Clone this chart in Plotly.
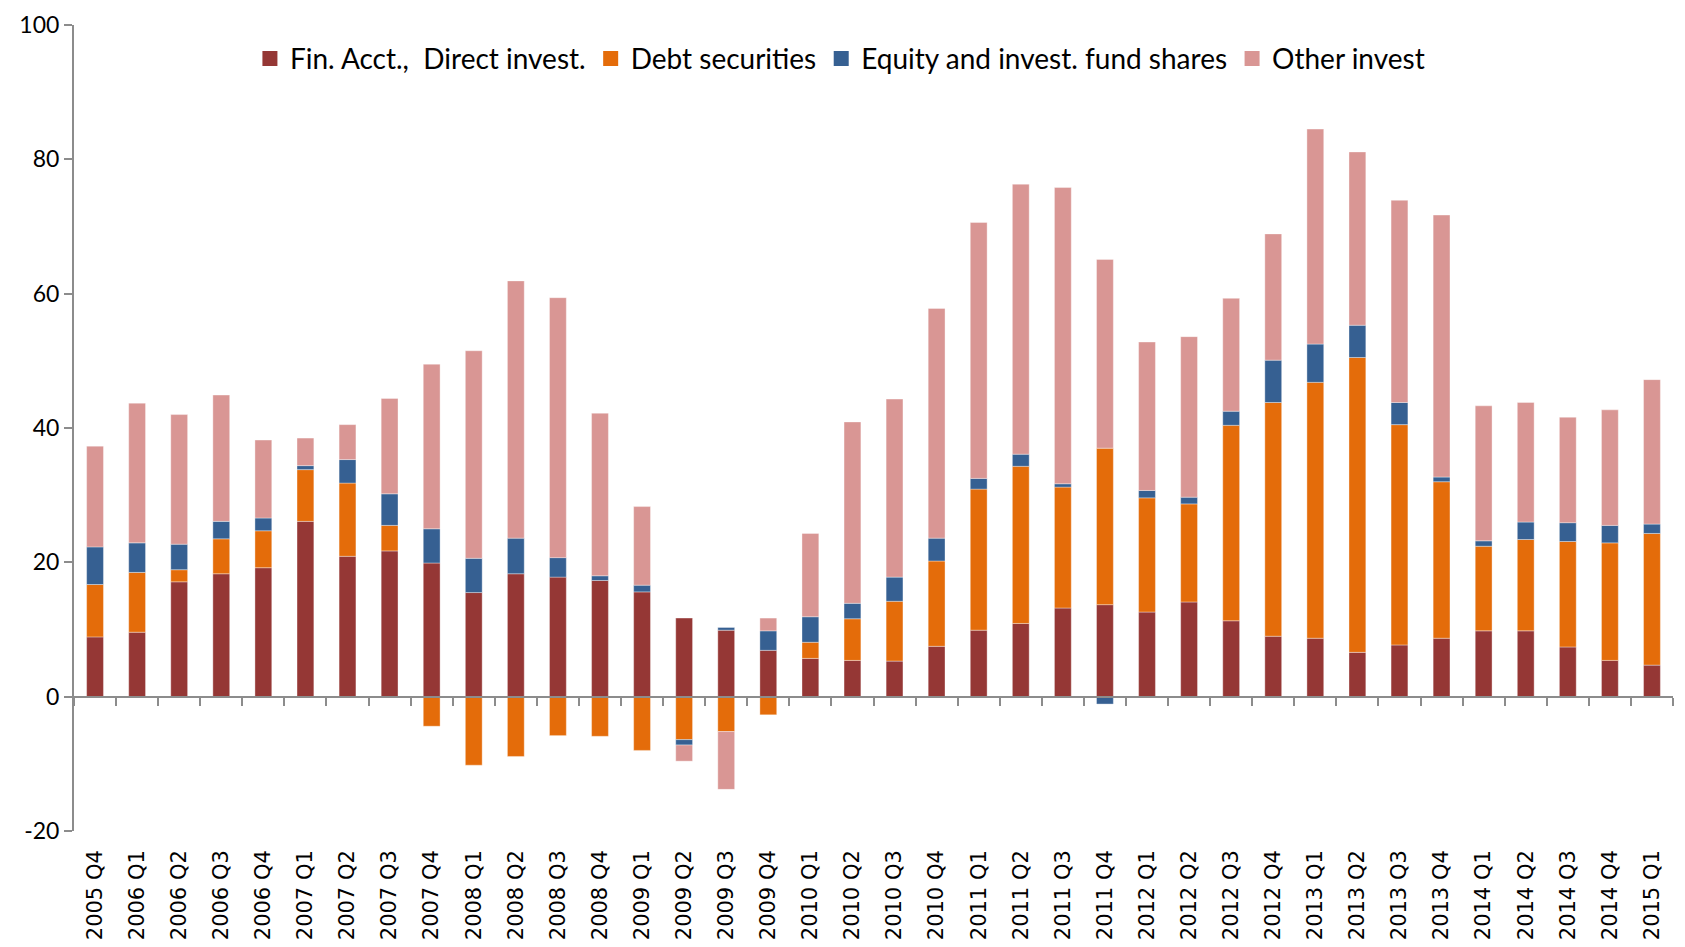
import plotly.graph_objects as go

quarters = ["2005 Q4", "2006 Q1", "2006 Q2", "2006 Q3", "2006 Q4", "2007 Q1", "2007 Q2", "2007 Q3",
            "2007 Q4", "2008 Q1", "2008 Q2", "2008 Q3", "2008 Q4", "2009 Q1", "2009 Q2", "2009 Q3",
            "2009 Q4", "2010 Q1", "2010 Q2", "2010 Q3", "2010 Q4", "2011 Q1", "2011 Q2", "2011 Q3",
            "2011 Q4", "2012 Q1", "2012 Q2", "2012 Q3", "2012 Q4", "2013 Q1", "2013 Q2", "2013 Q3",
            "2013 Q4", "2014 Q1", "2014 Q2", "2014 Q3", "2014 Q4", "2015 Q1"]

direct_invest = [8.9, 9.6, 17.1, 18.3, 19.2, 26.1, 20.9, 21.7,
                 19.9, 15.5, 18.3, 17.8, 17.3, 15.6, 11.7, 9.9,
                 6.9, 5.7, 5.4, 5.3, 7.5, 9.9, 10.9, 13.2,
                 13.7, 12.6, 14.1, 11.3, 9.0, 8.7, 6.6, 7.7,
                 8.7, 9.8, 9.8, 7.4, 5.4, 4.7]

debt_securities = [7.8, 8.9, 1.8, 5.2, 5.5, 7.7, 10.9, 3.8,
                   -4.4, -10.2, -8.9, -5.8, -5.9, -8.0, -6.4, -5.2,
                   -2.7, 2.4, 6.2, 8.9, 12.7, 21.0, 23.4, 18.0,
                   23.3, 17.0, 14.6, 29.1, 34.8, 38.1, 43.9, 32.8,
                   23.3, 12.6, 13.6, 15.7, 17.5, 19.6]

equity_fund_shares = [5.6, 4.4, 3.8, 2.6, 1.9, 0.6, 3.5, 4.7,
                      5.1, 5.1, 5.3, 2.9, 0.7, 1.0, -0.8, 0.4,
                      2.9, 3.8, 2.3, 3.6, 3.4, 1.6, 1.8, 0.5,
                      -1.1, 1.1, 1.0, 2.1, 6.3, 5.7, 4.8, 3.3,
                      0.7, 0.8, 2.6, 2.8, 2.6, 1.4]

other_invest = [15.0, 20.8, 19.3, 18.8, 11.6, 4.1, 5.2, 14.2,
                24.5, 30.9, 38.3, 38.7, 24.2, 11.7, -2.4, -8.6,
                1.9, 12.4, 27.0, 26.5, 34.2, 38.1, 40.2, 44.1,
                28.1, 22.1, 23.9, 16.8, 18.8, 32.0, 25.8, 30.1,
                39.0, 20.1, 17.8, 15.7, 17.2, 21.5]

series_names = ["Fin. Acct.,  Direct invest.", "Debt securities",
                "Equity and invest. fund shares", "Other invest"]
series_colors = ["#953735", "#E46C0A", "#366092", "#D99694"]
series_values = [direct_invest, debt_securities, equity_fund_shares, other_invest]

y_ticks = [-20, 0, 20, 40, 60, 80, 100]

fig = go.Figure()
for name, color, vals in zip(series_names, series_colors, series_values):
    fig.add_trace(go.Bar(
        x=quarters, y=vals, name=name, legendgroup=name, showlegend=False,
        marker=dict(color=color, line=dict(width=0.6, color="rgba(255,255,255,0.6)")),
    ))
# legend entries with larger square swatches
for name, color in zip(series_names, series_colors):
    fig.add_trace(go.Scatter(
        x=[None], y=[None], name=name, legendgroup=name, mode="markers",
        marker=dict(symbol="square", size=15, color=color), hoverinfo="skip",
    ))

# helper trace on an overlaying axis drawn along y = 0 (category boundary ticks)
fig.add_trace(go.Scatter(
    x=quarters, y=[0] * len(quarters), xaxis="x2", mode="markers",
    marker=dict(size=1, opacity=0), showlegend=False, hoverinfo="skip",
))

axis_grey = "#8c8c8c"
fig.update_layout(
    width=1685, height=947,
    barmode="relative",
    bargap=0.6,
    plot_bgcolor="white",
    paper_bgcolor="white",
    margin=dict(l=66, r=20, t=17, b=124, autoexpand=False),
    font=dict(family="Lato, 'Open Sans', sans-serif", size=22, color="#000000"),
    legend=dict(
        orientation="h", x=0.479, xanchor="center", y=0.958, yanchor="middle",
        font=dict(family="Lato, sans-serif", size=28),
        bgcolor="rgba(255,255,255,0)", traceorder="normal",
        itemsizing="trace", itemwidth=30,
    ),
    xaxis=dict(
        type="category", range=[-0.5, len(quarters) - 0.5], automargin=False,
        showline=False, showgrid=False, zeroline=False, ticks="",
        tickangle=-90, ticklabelstandoff=14,
        tickfont=dict(family="DejaVu Sans, sans-serif", size=21, color="#000000"),
    ),
    xaxis2=dict(
        type="category", overlaying="x", anchor="free", position=1 / 6,
        range=[-0.5, len(quarters) - 0.5], automargin=False,
        showline=True, linecolor=axis_grey, linewidth=2,
        ticks="outside", tickson="boundaries", ticklen=8, tickcolor=axis_grey, tickwidth=2,
        showticklabels=False, showgrid=False, zeroline=False,
    ),
    yaxis=dict(
        range=[-20, 100], tickvals=y_ticks, ticktext=[str(v) for v in y_ticks],
        automargin=False, ticklabeloverflow="allow",
        showline=True, linecolor=axis_grey, linewidth=2,
        ticks="outside", ticklen=8, tickcolor=axis_grey, tickwidth=2,
        showgrid=False, zeroline=False,
        tickfont=dict(family="Lato, sans-serif", size=23, color="#000000"),
    ),
)

fig.write_html("out.html")
